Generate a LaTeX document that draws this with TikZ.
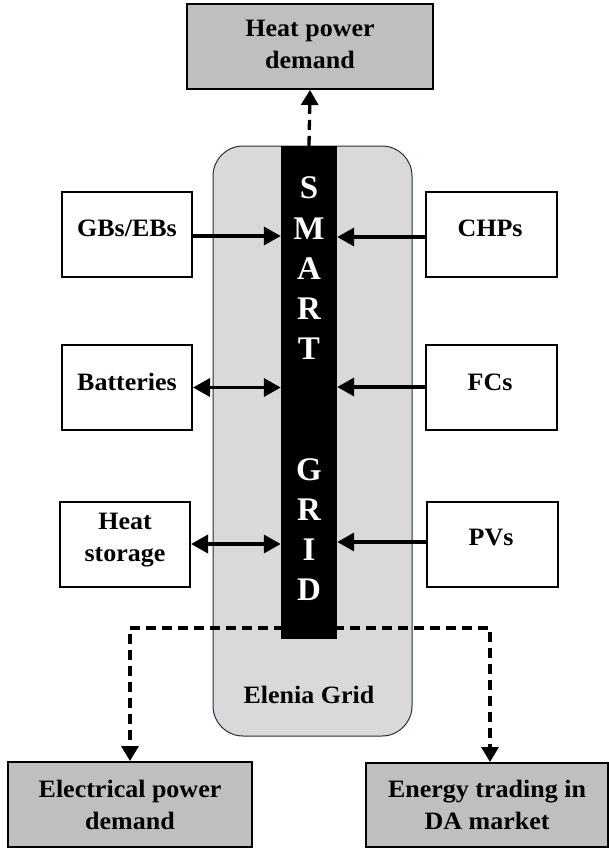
\documentclass[tikz,border=0pt]{standalone}
\usepackage{fontspec}
\setmainfont{Liberation Serif}
\newfontfamily\lblfont{Liberation Serif}[FakeStretch=1.04]
\usetikzlibrary{arrows.meta}
\definecolor{gridfill}{HTML}{D9D9D9}
\definecolor{gridedge}{HTML}{1F3040}
\definecolor{dembox}{HTML}{BFBFBF}
\tikzset{
  unitbox/.style={draw=black, line width=2pt, fill=white, minimum width=130pt, minimum height=85pt, inner sep=0pt},
  demandbox/.style={draw=black, line width=2pt, fill=dembox, inner sep=0pt},
  lbl/.style={font=\lblfont\bfseries\fontsize{25}{32}\selectfont, align=center, inner sep=0pt},
  barletter/.style={font=\bfseries\fontsize{33}{33}\selectfont, text=white, inner sep=0pt},
  tip/.style={Triangle[length=17pt,width=18pt]},
  flow/.style={line width=3.5pt, -{Triangle[length=17pt,width=18pt]}},
  bflow/.style={line width=3.5pt, {Triangle[length=17pt,width=18pt]}-{Triangle[length=17pt,width=18pt]}},
  dflow/.style={line width=3.3pt, dash pattern=on 10pt off 6pt, -{Triangle[length=15pt,width=17pt]}}
}
\begin{document}
\begin{tikzpicture}[x=1pt,y=-1pt]
\useasboundingbox (0,0) rectangle (608,851);
% Elenia grid
\node[draw=gridedge, line width=1pt, fill=gridfill, rounded corners=30pt, minimum width=199pt, minimum height=590pt, inner sep=0pt] (grid) at (312.5,441) {};
\node[lbl] (gridlbl) at (309,695) {Elenia Grid};
% bottom boxes and dashed connectors (under bar)
\node[demandbox, minimum width=244pt, minimum height=85pt] (epd) at (130,804.5) {};
\node[lbl] (epdlbl) at (130,804.5) {Electrical power\\demand};
\node[demandbox, minimum width=242pt, minimum height=84pt] (etd) at (487,805) {};
\node[lbl] (etdlbl) at (487,804.5) {Energy trading in\\DA market};
\coordinate (dl) at (300,628);
\coordinate (dr) at (318,628);
\draw[dflow] (dl) -| (epd.north);
\draw[dflow] (dr) -| ([xshift=3pt]etd.north);
% smart grid bar
\node[fill=black, minimum width=56pt, minimum height=493pt, inner sep=0pt] (bar) at (309,392.5) {};
\foreach \l [count=\i from 0] in {S,M,A,R,T,{},{},G,R,I,D}
  \node[barletter] (letter\i) at (309,188+40.2*\i) {\l};
% heat power demand
\node[demandbox, minimum width=246pt, minimum height=85pt] (hpd) at (310,46.5) {};
\node[lbl] (hpdlbl) at (310,44) {Heat power\\demand};
\draw[dflow] (bar.north) -- (hpd.south);
% left units
\node[unitbox] (gb) at (127,234.5) {};
\node[lbl] (gblbl) at (127,228) {GBs/EBs};
\node[unitbox] (bat) at (127,387.5) {};
\node[lbl] (batlbl) at (127,382) {Batteries};
\node[unitbox] (hs) at (125,544) {};
\node[lbl] (hslbl) at (125,540) {Heat\\storage};
% right units
\node[unitbox, minimum width=131pt] (chp) at (491.5,234.5) {};
\node[lbl] (chplbl) at (490,228) {CHPs};
\node[unitbox, minimum width=131pt] (fc) at (491.5,387) {};
\node[lbl] (fclbl) at (490,382) {FCs};
\node[unitbox, minimum width=131pt] (pv) at (492,544) {};
\node[lbl] (pvlbl) at (491,537) {PVs};
% connectors
\draw[flow] ([yshift=-1.5pt]gb.east) -- ([yshift=-1.5pt]gb.east -| bar.west);
\draw[bflow] (bat.east) -- (bat.east -| bar.west);
\draw[bflow] (hs.east) -- (hs.east -| bar.west);
\draw[flow] ([yshift=-2.5pt]chp.west) -- ([yshift=-2.5pt]chp.west -| bar.east);
\draw[flow] (fc.west) -- (fc.west -| bar.east);
\draw[flow] ([yshift=2pt]pv.west) -- ([yshift=2pt]pv.west -| bar.east);
\end{tikzpicture}
\end{document}
